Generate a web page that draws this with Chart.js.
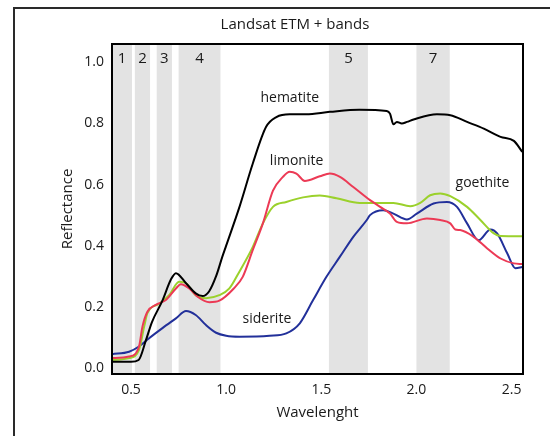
<!DOCTYPE html>
<html>
<head>
<meta charset="utf-8">
<script src="https://cdn.jsdelivr.net/npm/chart.js@4"></script>
<style>
  html, body { margin: 0; padding: 0; background: #fff; }
  #wrap { position: relative; width: 550px; height: 436px; }
  #frame { position: absolute; left: 13px; top: 7px; width: 600px; height: 500px;
           border-left: 2px solid #2a2a2a; border-top: 2px solid #2a2a2a; }
  canvas { position: absolute; left: 0; top: 0; }
</style>
</head>
<body>
<div id="wrap">
  <div id="frame"></div>
  <canvas id="chart" width="550" height="436"></canvas>
</div>
<script>
// Landsat ETM+ bands (micrometres)
var bandNames = ['1', '2', '3', '4', '5', '7'];
var bandStart = [0.40, 0.52, 0.635, 0.75, 1.54, 2.00];
var bandEnd = [0.505, 0.60, 0.715, 0.97, 1.745, 2.175];

var xTicks = [0.5, 1.0, 1.5, 2.0, 2.5];
var yTicks = [0.0, 0.2, 0.4, 0.6, 0.8, 1.0];

var hematiteX = [0.40, 0.50, 0.54, 0.578, 0.61, 0.665, 0.71, 0.736, 0.789, 0.84, 0.876, 0.91, 0.947, 0.98, 1.0, 1.07, 1.14, 1.21, 1.264, 1.334, 1.42, 1.545, 1.70, 1.844, 1.861, 1.879, 1.897, 1.923, 1.95, 1.985, 2.108, 2.178, 2.266, 2.354, 2.442, 2.512, 2.556];
var hematiteY = [0.02, 0.02, 0.026, 0.09, 0.15, 0.22, 0.29, 0.31, 0.277, 0.244, 0.235, 0.25, 0.30, 0.364, 0.40, 0.527, 0.669, 0.789, 0.821, 0.83, 0.83, 0.838, 0.845, 0.841, 0.832, 0.797, 0.805, 0.80, 0.805, 0.813, 0.83, 0.827, 0.805, 0.783, 0.756, 0.743, 0.707];

var limoniteX = [0.40, 0.49, 0.542, 0.56, 0.586, 0.63, 0.683, 0.736, 0.762, 0.806, 0.85, 0.912, 0.964, 1.04, 1.087, 1.14, 1.193, 1.246, 1.298, 1.334, 1.369, 1.413, 1.492, 1.545, 1.598, 1.668, 1.756, 1.809, 1.861, 1.897, 1.95, 2.055, 2.125, 2.178, 2.204, 2.23, 2.30, 2.372, 2.442, 2.512, 2.556];
var limoniteY = [0.032, 0.037, 0.07, 0.135, 0.184, 0.206, 0.222, 0.26, 0.274, 0.26, 0.233, 0.215, 0.22, 0.26, 0.298, 0.386, 0.473, 0.58, 0.625, 0.642, 0.636, 0.612, 0.627, 0.636, 0.625, 0.592, 0.549, 0.527, 0.505, 0.478, 0.473, 0.489, 0.484, 0.473, 0.453, 0.451, 0.429, 0.391, 0.358, 0.342, 0.34];

var goethiteX = [0.40, 0.49, 0.542, 0.569, 0.586, 0.648, 0.70, 0.753, 0.789, 0.84, 0.894, 0.964, 1.017, 1.065, 1.14, 1.193, 1.246, 1.316, 1.404, 1.492, 1.58, 1.703, 1.879, 1.967, 2.02, 2.072, 2.125, 2.178, 2.266, 2.336, 2.407, 2.442, 2.556];
var goethiteY = [0.026, 0.032, 0.059, 0.135, 0.179, 0.21, 0.238, 0.282, 0.277, 0.238, 0.228, 0.238, 0.26, 0.31, 0.396, 0.473, 0.527, 0.543, 0.558, 0.564, 0.555, 0.54, 0.54, 0.529, 0.54, 0.565, 0.571, 0.562, 0.527, 0.484, 0.44, 0.432, 0.431];

var sideriteX = [0.40, 0.49, 0.542, 0.595, 0.665, 0.736, 0.789, 0.84, 0.894, 0.947, 1.0, 1.07, 1.228, 1.316, 1.387, 1.457, 1.527, 1.598, 1.668, 1.739, 1.756, 1.826, 1.879, 1.95, 2.002, 2.09, 2.16, 2.213, 2.266, 2.327, 2.389, 2.424, 2.477, 2.52, 2.556];
var sideriteY = [0.045, 0.053, 0.07, 0.097, 0.13, 0.162, 0.186, 0.173, 0.14, 0.115, 0.105, 0.102, 0.105, 0.113, 0.146, 0.222, 0.298, 0.364, 0.429, 0.484, 0.50, 0.516, 0.505, 0.486, 0.505, 0.538, 0.543, 0.527, 0.473, 0.418, 0.453, 0.44, 0.375, 0.326, 0.33];

// curve name labels, placed in data coordinates
var labelText = ['hematite', 'limonite', 'goethite', 'siderite'];
var labelX = [1.334, 1.37, 2.347, 1.214];
var labelY = [0.882, 0.676, 0.605, 0.160];

function toPoints(xs, ys) {
    return xs.map(function(x, i) { return {x: x, y: ys[i]}; });
}

function line(label, xs, ys, color) {
    return {
        label: label,
        data: toPoints(xs, ys),
        borderColor: color,
        borderWidth: 2,
        pointRadius: 0,
        showLine: true,
        fill: false,
        cubicInterpolationMode: 'monotone'
    };
}

var fontFamily = '"Open Sans", "Noto Sans", sans-serif';

var decorations = {
    id: 'decorations',
    beforeDatasetsDraw: function(chart) {
        var ctx = chart.ctx, xs = chart.scales.x, area = chart.chartArea;
        ctx.save();
        ctx.fillStyle = '#e3e3e3';
        for (var i = 0; i < bandNames.length; i++) {
            var x0 = xs.getPixelForValue(bandStart[i]);
            var x1 = xs.getPixelForValue(bandEnd[i]);
            ctx.fillRect(x0, area.top, x1 - x0, area.bottom - area.top);
        }
        ctx.restore();
    },
    afterDatasetsDraw: function(chart) {
        var ctx = chart.ctx, xs = chart.scales.x, ys = chart.scales.y, area = chart.chartArea;
        ctx.save();
        ctx.fillStyle = '#1a1a1a';
        ctx.textAlign = 'center';
        ctx.textBaseline = 'middle';
        ctx.font = '15px ' + fontFamily;
        for (var i = 0; i < bandNames.length; i++) {
            var cx = (xs.getPixelForValue(bandStart[i]) + xs.getPixelForValue(bandEnd[i])) / 2;
            ctx.fillText(bandNames[i], cx, area.top + 15);
        }
        ctx.font = '14px ' + fontFamily;
        for (var j = 0; j < labelText.length; j++) {
            ctx.fillText(labelText[j], xs.getPixelForValue(labelX[j]), ys.getPixelForValue(labelY[j]));
        }
        ctx.font = '15px ' + fontFamily;
        ctx.fillText('Landsat ETM + bands', 295, 25);
        // plot frame
        ctx.strokeStyle = '#000';
        ctx.lineWidth = 2;
        ctx.strokeRect(area.left, area.top, area.right - area.left, area.bottom - area.top);
        ctx.restore();
    }
};

var chart = new Chart(document.getElementById('chart').getContext('2d'), {
    type: 'scatter',
    data: {
        datasets: [
            line('hematite', hematiteX, hematiteY, '#000000'),
            line('limonite', limoniteX, limoniteY, '#ec3a55'),
            line('goethite', goethiteX, goethiteY, '#9bd12c'),
            line('siderite', sideriteX, sideriteY, '#22309a')
        ]
    },
    options: {
        responsive: false,
        animation: false,
        layout: { padding: { left: 55, top: 44, right: 27, bottom: 0 } },
        plugins: { legend: { display: false }, tooltip: { enabled: false } },
        scales: {
            x: {
                type: 'linear',
                min: 0.4,
                max: 2.56,
                afterFit: function(s) { s.height = 62; },
                afterBuildTicks: function(s) { s.ticks = xTicks.map(function(v) { return {value: v}; }); },
                grid: { display: false, drawTicks: true, tickLength: 5, tickColor: '#000', tickWidth: 2 },
                border: { color: '#000', width: 2 },
                ticks: {
                    padding: 3,
                    color: '#1a1a1a',
                    font: { family: fontFamily, size: 14 },
                    callback: function(v) { return v.toFixed(1); }
                },
                title: {
                    display: true,
                    text: 'Wavelenght',
                    color: '#1a1a1a',
                    font: { family: fontFamily, size: 15 },
                    padding: { top: 0, bottom: 14 }
                }
            },
            y: {
                type: 'linear',
                min: -0.02,
                max: 1.06,
                afterFit: function(s) { s.width = 57; },
                afterBuildTicks: function(s) { s.ticks = yTicks.map(function(v) { return {value: v}; }); },
                grid: { display: false, drawTicks: true, tickLength: 5, tickColor: '#000', tickWidth: 2 },
                border: { color: '#000', width: 2 },
                ticks: {
                    padding: 3,
                    color: '#1a1a1a',
                    font: { family: fontFamily, size: 14 },
                    callback: function(v) { return v.toFixed(1); }
                },
                title: {
                    display: true,
                    text: 'Reflectance',
                    color: '#1a1a1a',
                    font: { family: fontFamily, size: 15 },
                    padding: { top: 4, bottom: 0 }
                }
            }
        }
    },
    plugins: [decorations]
});
</script>
</body>
</html>
